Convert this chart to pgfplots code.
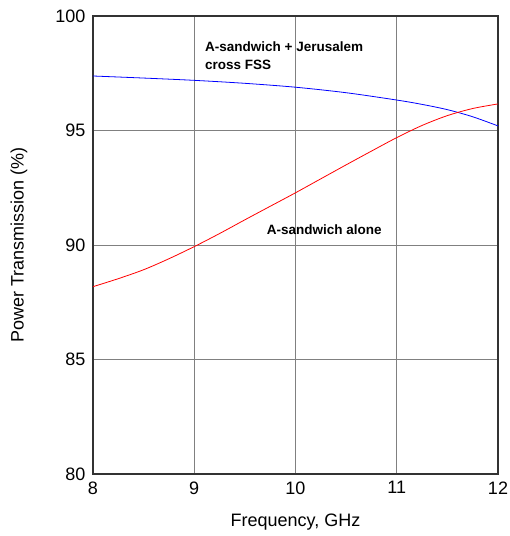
\documentclass[border=0pt]{standalone}
\usepackage{pgfplots}
\pgfplotsset{compat=1.18}
\usepackage{fontspec}
\setmainfont{Liberation Sans}
\begin{document}
\begin{tikzpicture}
\useasboundingbox (-93bp,-62bp) rectangle (417bp,474bp);
\begin{axis}[
  at={(0,0)}, anchor=south west,
  scale only axis, width=405bp, height=458bp,
  xmin=8, xmax=12, ymin=80, ymax=100,
  xtick={8,9,10,11,12}, ytick={80,85,90,95,100},
  grid=major,
  major grid style={draw=black!50, line width=0.8pt},
  axis line style={draw=black!80, line width=1.2pt},
  tick style={draw=none},
  font=\fontsize{18bp}{21bp}\selectfont,
  /pgf/number format/assume math mode=true,
  xticklabel style={yshift=-4bp},
  yticklabel style={xshift=-4bp},
  xlabel={Frequency, GHz},
  ylabel={Power Transmission (\%)},
  xlabel style={at={(axis description cs:0.5,-0.106)}, anchor=center},
  ylabel style={at={(axis description cs:-0.183,0.5)}, anchor=center},
  clip=true,
]
\addplot[blue, line width=0.8pt, smooth] coordinates {
(8,97.38) (8.5,97.29) (9,97.19) (9.5,97.06) (10,96.89) (10.5,96.65) (11,96.33) (11.25,96.14) (11.5,95.91) (11.75,95.6) (12,95.2)};
\addplot[red, line width=0.8pt, smooth] coordinates {
(8,88.18) (8.25,88.53) (8.5,88.92) (8.75,89.4) (9,89.93) (9.25,90.5) (9.5,91.1) (9.75,91.69) (10,92.28) (10.25,92.89) (10.5,93.5) (10.75,94.1) (11,94.69) (11.25,95.22) (11.5,95.65) (11.75,95.96) (12,96.16)};
\node[anchor=west, inner sep=0pt, font=\fontsize{13.5bp}{16bp}\selectfont\bfseries] at (axis cs:9.106,98.65) {A-sandwich + Jerusalem};
\node[anchor=west, inner sep=0pt, font=\fontsize{13.5bp}{16bp}\selectfont\bfseries] at (axis cs:9.106,97.86) {cross FSS};
\node[anchor=west, inner sep=0pt, font=\fontsize{13.5bp}{16bp}\selectfont\bfseries] at (axis cs:9.715,90.66) {A-sandwich alone};
\end{axis}
\end{tikzpicture}
\end{document}
